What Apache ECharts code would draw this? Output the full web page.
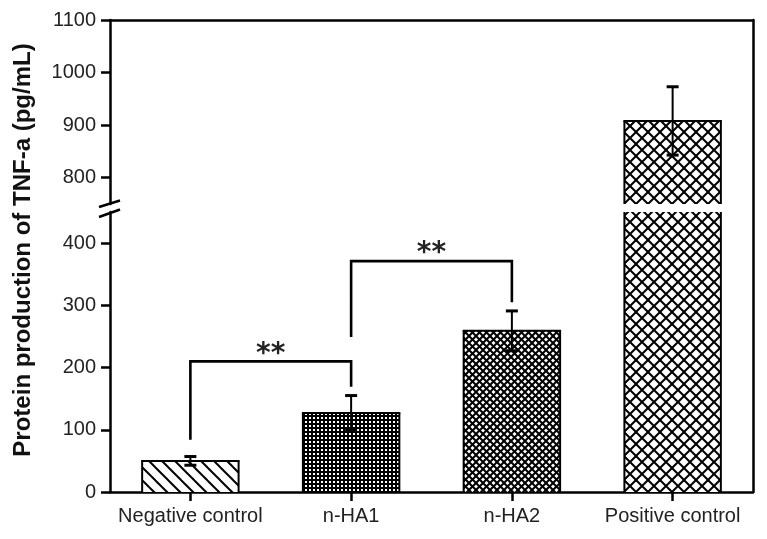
<!DOCTYPE html>
<html>
<head>
<meta charset="utf-8">
<script src="https://cdn.jsdelivr.net/npm/echarts@6/dist/echarts.min.js"></script>
<style>html,body{margin:0;padding:0;background:#fff}#chart{width:767px;height:539px}</style>
</head>
<body>
<div id="chart"></div>
<script>
// data
const categories = ['Negative control', 'n-HA1', 'n-HA2', 'Positive control'];
const means = [50, 127, 259, 908];
const errors = [7, 28, 32, 65];
const upperTicks = [800, 900, 1000, 1100];
const lowerTicks = [0, 100, 200, 300, 400];
const upperRange = [750, 1100];
const lowerRange = [0, 450];
// significance brackets
const bracketFrom = [0, 1];
const bracketTo = [1, 2];
const bracketLevel = [210, 371];
const bracketLeftEnd = [84, 249];
const bracketRightEnd = [169, 305];
const bracketLabel = ['**', '**'];

const gridLeft = 110, gridRight = 14;
const FONT = '"Liberation Sans", Arial, sans-serif';

/* ---- fill patterns ---- */
function hatch(size, lw, dirs) {
  const c = document.createElement('canvas');
  c.width = c.height = size;
  const ctx = c.getContext('2d');
  ctx.fillStyle = '#fff'; ctx.fillRect(0, 0, size, size);
  ctx.strokeStyle = '#000'; ctx.lineWidth = lw;
  dirs.forEach(d => {
    [-size, 0, size].forEach(off => {
      ctx.beginPath();
      if (d === '\\') { ctx.moveTo(off - 2, -2); ctx.lineTo(off + size + 2, size + 2); }
      else { ctx.moveTo(off - 2, size + 2); ctx.lineTo(off + size + 2, -2); }
      ctx.stroke();
    });
  });
  return c;
}
function dots(size, dot) {
  const c = document.createElement('canvas');
  c.width = c.height = size;
  const ctx = c.getContext('2d');
  ctx.fillStyle = '#000'; ctx.fillRect(0, 0, size, size);
  ctx.fillStyle = '#fff'; ctx.fillRect(1, 1, dot, dot);
  return c;
}
const patterns = [
  hatch(13, 2, ['\\']),
  dots(4, 2),
  hatch(7, 2, ['\\', '/']),
  hatch(12, 2, ['\\', '/'])
].map(c => ({ image: c, repeat: 'repeat' }));

// bars drawn as custom marks so a bar cut by the axis break has no edge at the cut
function renderBar(params, api) {
  const cs = params.coordSys;
  const i = api.value(0);
  const top = api.coord([i, api.value(1)]);
  const base = api.coord([i, 0]);
  const w = api.size([1, 0])[0] * 0.6;
  const xl = top[0] - w / 2, xr = top[0] + w / 2;
  const yT = Math.max(top[1], cs.y), yB = Math.min(base[1], cs.y + cs.height);
  if (yT >= yB) return null;
  const st = { stroke: '#000', lineWidth: 2 };
  const children = [
    { type: 'rect', shape: { x: xl, y: yT, width: w, height: yB - yT }, style: { fill: patterns[i] } },
    { type: 'line', shape: { x1: xl, y1: yT, x2: xl, y2: yB }, style: st },
    { type: 'line', shape: { x1: xr, y1: yT, x2: xr, y2: yB }, style: st }
  ];
  if (top[1] >= cs.y) children.push({ type: 'line', shape: { x1: xl - 1, y1: yT, x2: xr + 1, y2: yT }, style: st });
  return { type: 'group', children };
}

function renderErr(params, api) {
  const top = api.coord([api.value(0), api.value(2)]);
  const bot = api.coord([api.value(0), api.value(1)]);
  const w = 6;
  return {
    type: 'group', children: [
      { type: 'line', shape: { x1: top[0], y1: top[1], x2: bot[0], y2: bot[1] }, style: { stroke: '#000', lineWidth: 2 } },
      { type: 'line', shape: { x1: top[0] - w, y1: top[1], x2: top[0] + w, y2: top[1] }, style: { stroke: '#000', lineWidth: 3 } },
      { type: 'line', shape: { x1: bot[0] - w, y1: bot[1], x2: bot[0] + w, y2: bot[1] }, style: { stroke: '#000', lineWidth: 3 } }
    ]
  };
}

function renderBracket(params, api) {
  const a = api.coord([api.value(0), api.value(2)]);
  const b = api.coord([api.value(1), api.value(2)]);
  const aEnd = api.coord([api.value(0), api.value(3)]);
  const bEnd = api.coord([api.value(1), api.value(4)]);
  return {
    type: 'group', children: [
      { type: 'polyline', shape: { points: [[aEnd[0], aEnd[1]], [a[0], a[1]], [b[0], b[1]], [bEnd[0], bEnd[1]]] },
        style: { stroke: '#000', lineWidth: 2.6, fill: null } },
      { type: 'text', x: (a[0] + b[0]) / 2, y: a[1] - 7,
        style: { text: bracketLabel[params.dataIndex], font: 'bold 28px "DejaVu Sans"', fill: '#222', align: 'center', verticalAlign: 'middle' } }
    ]
  };
}

const barData = means.map((v, i) => [i, v]);
const errData = means.map((v, i) => [i, v - errors[i], v + errors[i]]);

const axisLineStyle = { show: true, onZero: false, lineStyle: { color: '#000', width: 2.5 } };
const tickLabel = { fontSize: 20, color: '#222', fontFamily: FONT, margin: 14, formatter: v => String(v) };

const chart = echarts.init(document.getElementById('chart'));
chart.setOption({
  animation: false,
  grid: [
    { left: gridLeft, right: gridRight, top: 20, height: 184 },
    { left: gridLeft, right: gridRight, top: 212, bottom: 47 },
    { left: gridLeft, right: gridRight, top: 20, bottom: 47 }
  ],
  xAxis: [
    { gridIndex: 0, type: 'category', data: categories, position: 'top', axisLine: axisLineStyle,
      axisTick: { show: false }, axisLabel: { show: false } },
    { gridIndex: 1, type: 'category', data: categories, position: 'bottom', axisLine: axisLineStyle,
      axisTick: { show: true, alignWithLabel: true, length: 9, lineStyle: { color: '#000', width: 2.5 } },
      axisLabel: { fontSize: 20, color: '#222', fontFamily: FONT, margin: 14, interval: 0 } },
    { gridIndex: 2, type: 'value', show: false }
  ],
  yAxis: [
    { gridIndex: 0, type: 'value', min: upperRange[0], max: upperRange[1], axisLine: axisLineStyle,
      axisTick: { show: true, length: 9, customValues: upperTicks, lineStyle: { color: '#000', width: 2.5 } },
      axisLabel: Object.assign({ customValues: upperTicks }, tickLabel),
      splitLine: { show: false } },
    { gridIndex: 1, type: 'value', min: lowerRange[0], max: lowerRange[1], axisLine: axisLineStyle,
      axisTick: { show: true, length: 9, customValues: lowerTicks, lineStyle: { color: '#000', width: 2.5 } },
      axisLabel: Object.assign({ customValues: lowerTicks }, tickLabel),
      splitLine: { show: false } },
    { gridIndex: 2, type: 'value', position: 'right', min: 0, max: 1, axisLine: axisLineStyle,
      axisTick: { show: false }, axisLabel: { show: false }, splitLine: { show: false } }
  ],
  series: [
    { type: 'custom', xAxisIndex: 0, yAxisIndex: 0, renderItem: renderBar, encode: { x: 0, y: 1 }, data: barData, z: 2 },
    { type: 'custom', xAxisIndex: 1, yAxisIndex: 1, renderItem: renderBar, encode: { x: 0, y: 1 }, data: barData, z: 2 },
    { type: 'custom', xAxisIndex: 0, yAxisIndex: 0, renderItem: renderErr, encode: { x: 0, y: [1, 2] },
      data: errData.filter(d => d[1] >= upperRange[0]), z: 5 },
    { type: 'custom', xAxisIndex: 1, yAxisIndex: 1, renderItem: renderErr, encode: { x: 0, y: [1, 2] },
      data: errData.filter(d => d[2] <= lowerRange[1]), z: 5 },
    { type: 'custom', xAxisIndex: 1, yAxisIndex: 1, renderItem: renderBracket, encode: { x: [0, 1], y: [2, 3, 4] },
      data: bracketFrom.map((f, i) => [f, bracketTo[i], bracketLevel[i], bracketLeftEnd[i], bracketRightEnd[i]]), z: 5 }
  ]
});

// axis break marks and the rotated title
const yBreakTop = chart.convertToPixel({ yAxisIndex: 0 }, upperRange[0]);
const yBreakBot = chart.convertToPixel({ yAxisIndex: 1 }, lowerRange[1]);
const mid = (yBreakTop + yBreakBot) / 2;
chart.setOption({
  graphic: [
    { type: 'line', shape: { x1: gridLeft - 11, y1: mid - 1, x2: gridLeft + 10, y2: mid - 7.5 }, style: { stroke: '#000', lineWidth: 2.5 } },
    { type: 'line', shape: { x1: gridLeft - 11, y1: mid + 9, x2: gridLeft + 10, y2: mid + 1.5 }, style: { stroke: '#000', lineWidth: 2.5 } },
    { type: 'text', x: 23, y: 250, rotation: Math.PI / 2,
      style: { text: 'Protein production of TNF-a (pg/mL)', font: 'bold 24px ' + FONT, fill: '#111', align: 'center', verticalAlign: 'middle' } }
  ]
});
</script>
</body>
</html>
